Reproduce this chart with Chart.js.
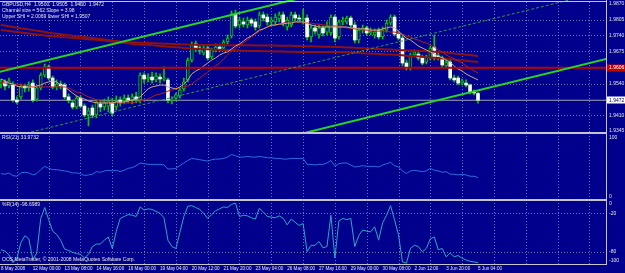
<!DOCTYPE html>
<html><head><meta charset="utf-8">
<script src="https://cdn.jsdelivr.net/npm/chart.js@4.4.1/dist/chart.umd.min.js"></script>
<style>
html,body{margin:0;padding:0;background:#00008c;overflow:hidden;}
#wrap{position:relative;width:625px;height:273px;background:#00008c;}
canvas{position:absolute;left:0;display:block;}
</style></head><body>
<div id="wrap">
<canvas id="cMain" width="625" height="133" style="top:0px;width:625px;height:133px"></canvas>
<canvas id="cRsi" width="625" height="67" style="top:133px;width:625px;height:67px"></canvas>
<canvas id="cWpr" width="625" height="73" style="top:200px;width:625px;height:73px"></canvas>
</div>
<script>
// ---------------- DATA (GBPUSD H4) ----------------
const open = [1.9539,1.9548,1.9531,1.9535,1.9473,1.9486,1.9531,1.9523,1.9543,1.9477,
1.9523,1.9576,1.9610,1.9564,1.9527,1.9539,1.9535,1.9486,1.9461,1.9444,
1.9481,1.9448,1.9411,1.9440,1.9411,1.9457,1.9444,1.9448,1.9461,1.9444,
1.9473,1.9469,1.9481,1.9473,1.9486,1.9473,1.9576,1.9560,1.9568,1.9556,
1.9568,1.9560,1.9556,1.9473,1.9481,1.9490,1.9519,1.9556,1.9638,1.9705,
1.9688,1.9667,1.9688,1.9651,1.9680,1.9692,1.9688,1.9713,1.9738,1.9829,
1.9783,1.9796,1.9783,1.9804,1.9796,1.9779,1.9825,1.9816,1.9796,1.9796,
1.9808,1.9825,1.9775,1.9783,1.9825,1.9812,1.9804,1.9812,1.9734,1.9771,
1.9742,1.9771,1.9754,1.9750,1.9816,1.9734,1.9796,1.9796,1.9812,1.9783,
1.9721,1.9762,1.9771,1.9750,1.9742,1.9762,1.9734,1.9762,1.9791,1.9816,
1.9746,1.9729,1.9626,1.9605,1.9659,1.9663,1.9647,1.9630,1.9647,1.9692,
1.9655,1.9647,1.9614,1.9630,1.9564,1.9564,1.9543,1.9543,1.9535,1.9506,
1.9500];
const high = [1.9560,1.9556,1.9564,1.9548,1.9486,1.9539,1.9539,1.9548,1.9556,1.9531,
1.9585,1.9622,1.9618,1.9572,1.9556,1.9552,1.9543,1.9498,1.9473,1.9490,
1.9490,1.9457,1.9440,1.9452,1.9473,1.9473,1.9477,1.9486,1.9481,1.9490,
1.9486,1.9494,1.9494,1.9498,1.9506,1.9585,1.9585,1.9581,1.9589,1.9585,
1.9581,1.9610,1.9564,1.9486,1.9502,1.9523,1.9564,1.9647,1.9713,1.9717,
1.9700,1.9700,1.9696,1.9688,1.9705,1.9705,1.9721,1.9742,1.9841,1.9845,
1.9816,1.9812,1.9816,1.9812,1.9808,1.9837,1.9837,1.9829,1.9816,1.9829,
1.9837,1.9837,1.9816,1.9837,1.9837,1.9825,1.9849,1.9825,1.9783,1.9783,
1.9783,1.9779,1.9796,1.9825,1.9825,1.9804,1.9816,1.9820,1.9820,1.9796,
1.9771,1.9783,1.9779,1.9771,1.9767,1.9771,1.9775,1.9804,1.9825,1.9825,
1.9758,1.9738,1.9638,1.9667,1.9680,1.9676,1.9659,1.9659,1.9696,1.9742,
1.9667,1.9655,1.9638,1.9638,1.9576,1.9572,1.9560,1.9556,1.9539,1.9515,
1.9505];
const low = [1.9523,1.9515,1.9523,1.9465,1.9457,1.9477,1.9506,1.9510,1.9465,1.9469,
1.9515,1.9568,1.9556,1.9519,1.9515,1.9519,1.9477,1.9461,1.9436,1.9436,
1.9440,1.9403,1.9366,1.9399,1.9399,1.9424,1.9432,1.9424,1.9407,1.9432,
1.9448,1.9457,1.9461,1.9457,1.9461,1.9461,1.9543,1.9548,1.9543,1.9548,
1.9543,1.9552,1.9461,1.9457,1.9469,1.9481,1.9510,1.9548,1.9630,1.9672,
1.9663,1.9659,1.9638,1.9643,1.9672,1.9672,1.9680,1.9705,1.9729,1.9771,
1.9771,1.9775,1.9771,1.9779,1.9762,1.9771,1.9800,1.9783,1.9779,1.9783,
1.9796,1.9779,1.9762,1.9775,1.9800,1.9796,1.9787,1.9721,1.9713,1.9746,
1.9729,1.9738,1.9742,1.9742,1.9713,1.9725,1.9783,1.9787,1.9771,1.9709,
1.9709,1.9750,1.9742,1.9742,1.9729,1.9725,1.9725,1.9754,1.9783,1.9738,
1.9721,1.9614,1.9597,1.9597,1.9651,1.9638,1.9618,1.9622,1.9638,1.9638,
1.9638,1.9610,1.9605,1.9556,1.9548,1.9535,1.9535,1.9527,1.9498,1.9494,
1.9460];
const close = [1.9548,1.9531,1.9552,1.9473,1.9465,1.9531,1.9523,1.9535,1.9473,1.9523,
1.9576,1.9610,1.9564,1.9527,1.9539,1.9531,1.9486,1.9473,1.9444,1.9481,
1.9448,1.9411,1.9428,1.9411,1.9465,1.9444,1.9461,1.9469,1.9419,1.9469,
1.9461,1.9481,1.9473,1.9486,1.9477,1.9576,1.9560,1.9568,1.9556,1.9572,
1.9560,1.9564,1.9473,1.9477,1.9494,1.9515,1.9548,1.9638,1.9700,1.9688,
1.9680,1.9688,1.9647,1.9680,1.9692,1.9684,1.9713,1.9729,1.9829,1.9779,
1.9804,1.9787,1.9804,1.9791,1.9775,1.9825,1.9812,1.9796,1.9804,1.9816,
1.9825,1.9791,1.9804,1.9825,1.9812,1.9808,1.9812,1.9734,1.9771,1.9758,
1.9771,1.9750,1.9779,1.9816,1.9729,1.9796,1.9804,1.9812,1.9783,1.9721,
1.9762,1.9771,1.9750,1.9758,1.9754,1.9734,1.9762,1.9791,1.9816,1.9746,
1.9729,1.9626,1.9605,1.9659,1.9672,1.9647,1.9626,1.9651,1.9688,1.9647,
1.9651,1.9618,1.9630,1.9564,1.9556,1.9543,1.9552,1.9535,1.9506,1.9502,
1.9472];
const maFast = [1.9560,1.9552,1.9543,1.9539,1.9531,1.9527,1.9527,1.9527,1.9527,1.9531,
1.9535,1.9543,1.9548,1.9552,1.9548,1.9535,1.9527,1.9515,1.9502,1.9490,
1.9481,1.9477,1.9469,1.9465,1.9461,1.9461,1.9461,1.9461,1.9461,1.9465,
1.9465,1.9465,1.9469,1.9473,1.9477,1.9486,1.9502,1.9519,1.9527,1.9531,
1.9535,1.9535,1.9527,1.9523,1.9519,1.9527,1.9539,1.9556,1.9581,1.9593,
1.9601,1.9614,1.9626,1.9638,1.9647,1.9659,1.9667,1.9672,1.9684,1.9696,
1.9705,1.9717,1.9729,1.9738,1.9750,1.9762,1.9767,1.9775,1.9783,1.9783,
1.9787,1.9787,1.9791,1.9791,1.9796,1.9796,1.9796,1.9791,1.9783,1.9779,
1.9775,1.9775,1.9775,1.9775,1.9775,1.9775,1.9775,1.9775,1.9771,1.9771,
1.9767,1.9767,1.9767,1.9762,1.9762,1.9762,1.9767,1.9771,1.9775,1.9771,
1.9758,1.9742,1.9729,1.9721,1.9709,1.9696,1.9688,1.9680,1.9672,1.9663,
1.9655,1.9647,1.9638,1.9630,1.9614,1.9601,1.9593,1.9581,1.9572,1.9564,
1.9556];
const maMid = [1.9548,1.9543,1.9543,1.9539,1.9539,1.9535,1.9535,1.9531,1.9527,1.9527,
1.9527,1.9527,1.9527,1.9527,1.9527,1.9527,1.9527,1.9523,1.9515,1.9506,
1.9502,1.9494,1.9486,1.9481,1.9473,1.9469,1.9465,1.9465,1.9461,1.9461,
1.9461,1.9461,1.9461,1.9461,1.9465,1.9469,1.9473,1.9477,1.9486,1.9494,
1.9498,1.9502,1.9510,1.9515,1.9519,1.9523,1.9527,1.9531,1.9539,1.9552,
1.9564,1.9576,1.9589,1.9601,1.9614,1.9626,1.9643,1.9659,1.9676,1.9688,
1.9700,1.9709,1.9721,1.9734,1.9746,1.9758,1.9767,1.9775,1.9779,1.9783,
1.9787,1.9791,1.9796,1.9796,1.9796,1.9796,1.9796,1.9791,1.9791,1.9787,
1.9787,1.9783,1.9783,1.9779,1.9779,1.9775,1.9775,1.9771,1.9771,1.9767,
1.9767,1.9762,1.9762,1.9762,1.9758,1.9758,1.9758,1.9758,1.9754,1.9754,
1.9750,1.9746,1.9738,1.9734,1.9725,1.9721,1.9713,1.9709,1.9700,1.9692,
1.9680,1.9672,1.9659,1.9651,1.9643,1.9634,1.9626,1.9614,1.9605,1.9593,
1.9585];
const maSlowA = [1.9783,1.9781,1.9778,1.9775,1.9773,1.9770,1.9768,1.9765,1.9762,1.9759,
1.9757,1.9754,1.9751,1.9749,1.9747,1.9745,1.9743,1.9741,1.9739,1.9737,
1.9736,1.9734,1.9731,1.9729,1.9727,1.9725,1.9723,1.9721,1.9719,1.9717,
1.9715,1.9713,1.9712,1.9712,1.9711,1.9710,1.9710,1.9709,1.9708,1.9708,
1.9707,1.9706,1.9706,1.9705,1.9705,1.9704,1.9703,1.9703,1.9702,1.9701,
1.9700,1.9700,1.9700,1.9700,1.9700,1.9700,1.9700,1.9699,1.9699,1.9699,
1.9699,1.9699,1.9699,1.9699,1.9698,1.9698,1.9698,1.9698,1.9698,1.9698,
1.9697,1.9697,1.9697,1.9697,1.9696,1.9696,1.9696,1.9695,1.9695,1.9694,
1.9694,1.9693,1.9693,1.9693,1.9692,1.9692,1.9691,1.9690,1.9690,1.9689,
1.9688,1.9687,1.9686,1.9686,1.9685,1.9684,1.9683,1.9682,1.9682,1.9681,
1.9680,1.9679,1.9679,1.9678,1.9677,1.9676,1.9676,1.9675,1.9674,1.9673,
1.9672,1.9670,1.9669,1.9667,1.9665,1.9664,1.9662,1.9660,1.9659,1.9657,
1.9655];
const maSlowB = [1.9762,1.9760,1.9758,1.9756,1.9754,1.9752,1.9750,1.9748,1.9746,1.9744,
1.9742,1.9740,1.9738,1.9737,1.9736,1.9734,1.9733,1.9731,1.9730,1.9729,
1.9727,1.9726,1.9724,1.9723,1.9722,1.9721,1.9719,1.9717,1.9715,1.9713,
1.9711,1.9709,1.9708,1.9706,1.9704,1.9703,1.9702,1.9701,1.9699,1.9698,
1.9696,1.9695,1.9693,1.9692,1.9691,1.9690,1.9688,1.9687,1.9686,1.9685,
1.9684,1.9683,1.9683,1.9682,1.9681,1.9681,1.9680,1.9680,1.9679,1.9678,
1.9678,1.9677,1.9677,1.9676,1.9676,1.9676,1.9675,1.9675,1.9675,1.9674,
1.9674,1.9674,1.9673,1.9673,1.9673,1.9672,1.9672,1.9672,1.9672,1.9672,
1.9672,1.9672,1.9672,1.9672,1.9672,1.9672,1.9671,1.9670,1.9669,1.9668,
1.9667,1.9666,1.9665,1.9665,1.9664,1.9663,1.9662,1.9661,1.9661,1.9660,
1.9659,1.9658,1.9656,1.9655,1.9654,1.9653,1.9652,1.9650,1.9649,1.9648,
1.9647,1.9645,1.9644,1.9642,1.9640,1.9638,1.9637,1.9635,1.9633,1.9632,
1.9630];
const rsi = [40,39,41,37,36,41,42,41,38,40,
46,51,48,46,46,45,44,43,41,41,
40,37,38,39,43,42,44,45,44,45,
43,45,48,49,52,56,55,54,54,54,
54,53,47,47,48,52,56,60,63,62,
61,60,59,61,62,62,63,65,69,67,
65,65,66,65,65,66,65,64,64,63,
63,62,62,63,63,63,63,54,54,53,
54,54,56,60,51,55,56,56,53,50,
51,52,51,51,51,50,53,55,57,52,
50,44,40,44,45,44,43,44,48,45,
44,42,43,39,39,38,39,38,36,36,
34];
const wpr = [-77,-79,-85,-97,-90,-66,-55,-60,-92,-82,
-28,-11,-30,-48,-53,-62,-76,-78,-81,-83,
-84,-90,-84,-72,-68,-68,-62,-57,-75,-48,
-28,-25,-22,-23,-25,-10,-15,-13,-14,-17,
-20,-27,-62,-72,-75,-50,-25,-9,-8,-11,
-14,-20,-28,-22,-16,-13,-10,-11,-6,-4,
-25,-23,-24,-27,-29,-12,-18,-25,-26,-27,
-24,-28,-38,-29,-34,-39,-36,-80,-70,-70,
-64,-74,-72,-23,-90,-32,-28,-30,-28,-72,
-55,-46,-48,-49,-41,-62,-35,-23,-8,-30,
-54,-96,-98,-75,-70,-72,-80,-75,-60,-57,
-77,-75,-88,-82,-88,-86,-90,-93,-95,-96,
-97];
// regression channel (bar index -> price)
const channelBars  = [-1, 153];
const channelUpper = [1.9587, 2.0208];
const channelLower = [1.9025, 1.9646];
const channelMid   = [1.9306, 1.9927];
const levelPrice = 1.9606;
const bidPrice = 1.9472;
// axes / labels
const priceTicks = [1.9870, 1.9805, 1.9740, 1.9675, 1.9540, 1.9410, 1.9345];
const priceGrid  = [1.9805, 1.9740, 1.9675, 1.9540, 1.9410];
const rsiTicks = [100, 0];
const wprTicks = [0, -20, -80, -100];
const wprLevels = [-20, -80];
const dateLabels = ["8 May 2008","12 May 00:00","13 May 08:00","14 May 16:00","16 May 00:00","19 May 04:00","20 May 12:00","21 May 20:00","23 May 04:00","26 May 08:00","27 May 16:00","29 May 00:00","30 May 08:00","2 Jun 12:00","3 Jun 20:00","5 Jun 04:00"];
const dateLabelBars = [0,8,16,24,32,40,48,56,64,72,80,88,96,104,112,120];
const gridBars = [4,12,20,28,36,44,52,60,68,76,84,92,100,108,116,124,132,140,148];

// ---------------- STYLE ----------------
const BG = '#00008c';
const GRID = 'rgba(200,200,215,0.55)';
const BORDER = '#c4c4cc';
const TXT = '#e6e6e6';
const FONT = '5px "Liberation Sans", Arial, sans-serif';
const DATE_FONT = '4.6px "Liberation Sans", Arial, sans-serif';
const X_MIN = -0.25, X_MAX = 152.2;
const bars = open.map((_, i) => i);
const isBear = bars.map(i => close[i] < open[i]);

function baseOptions(yMin, yMax, padBottom) {
  return {
    responsive: false, animation: false, devicePixelRatio: 1, events: [],
    layout: { padding: { left: 0, right: 19, top: 0, bottom: padBottom } },
    plugins: { legend: { display: false }, tooltip: { enabled: false } },
    scales: {
      x: { type: 'linear', min: X_MIN, max: X_MAX, offset: false, display: false },
      y: { type: 'linear', min: yMin, max: yMax, display: false }
    }
  };
}

function panelPlugin(o) {
  return {
    id: 'panel_' + o.id,
    beforeDraw(chart) {
      const ctx = chart.ctx;
      ctx.save(); ctx.fillStyle = BG; ctx.fillRect(0, 0, chart.width, chart.height); ctx.restore();
    },
    beforeDatasetsDraw(chart) {
      const { ctx, chartArea: a, scales: { x, y } } = chart;
      ctx.save();
      ctx.strokeStyle = GRID; ctx.lineWidth = 1; ctx.setLineDash([1, 2]);
      gridBars.forEach(b => {
        const px = Math.round(x.getPixelForValue(b)) + 0.5;
        ctx.beginPath(); ctx.moveTo(px, a.top + (o.gridTop || 0)); ctx.lineTo(px, a.bottom); ctx.stroke();
      });
      (o.hGrid || []).forEach(v => {
        const py = Math.round(y.getPixelForValue(v)) + 0.5;
        ctx.beginPath(); ctx.moveTo(a.left, py); ctx.lineTo(a.right, py); ctx.stroke();
      });
      ctx.restore();
    },
    afterDraw(chart) {
      const { ctx, chartArea: a, scales: { x, y } } = chart;
      ctx.save();
      ctx.fillStyle = BORDER;
      (o.borders || []).forEach(by => ctx.fillRect(0, by, a.right, 1));
      ctx.fillRect(Math.round(a.right), 0, 1, o.axisBottom);
      ctx.font = FONT; ctx.fillStyle = TXT; ctx.textAlign = 'left';
      (o.ticks || []).forEach(t => {
        const py = y.getPixelForValue(t.v);
        ctx.textBaseline = t.base || 'middle';
        ctx.fillText(t.text, a.right + 3, py + (t.dy || 0));
      });
      (o.boxes || []).forEach(bx => {
        const py = y.getPixelForValue(bx.v);
        ctx.fillStyle = bx.bg; ctx.fillRect(a.right + 1, Math.round(py) - 3.5, 19, 7);
        ctx.fillStyle = bx.fg; ctx.textBaseline = 'middle';
        ctx.fillText(bx.text, a.right + 3, py);
      });
      ctx.fillStyle = TXT; ctx.textBaseline = 'middle';
      (o.titles || []).forEach(t => {
        if (Array.isArray(t.parts)) {
          let cx = t.x;
          t.parts.forEach(p => { ctx.fillText(p, cx, t.y); cx += ctx.measureText(p).width + (t.gap || 2.5); });
        } else ctx.fillText(t.text, t.x, t.y);
      });
      if (o.dates) {
        ctx.font = DATE_FONT;
        dateLabels.forEach((s, k) => {
          ctx.fillText(s, x.getPixelForValue(dateLabelBars[k]), o.dateY);
        });
      }
      ctx.restore();
    }
  };
}

function lineDs(label, xs, ys, color, width, order, dash) {
  return { type: 'line', label, data: xs.map((b, k) => ({ x: b, y: ys[k] })),
    borderColor: color, borderWidth: width, pointRadius: 0, tension: 0, fill: false,
    borderDash: dash || [], order };
}

// ---------------- MAIN PRICE PANEL ----------------
const pTop = 1.98865, pPerPx = 0.0004134;
new Chart(document.getElementById('cMain'), {
  type: 'bar',
  data: { datasets: [
    lineDs('Channel upper', channelBars, channelUpper, '#25d625', 2, 1),
    lineDs('Channel lower', channelBars, channelLower, '#25d625', 2, 1),
    lineDs('Channel middle', channelBars, channelMid, '#2a9a48', 1, 1, [3, 2]),
    lineDs('Level', [X_MIN, X_MAX], [levelPrice, levelPrice], '#c00000', 2, 2),
    lineDs('MA fast', bars, maFast, '#d2a87c', 1, 3),
    lineDs('MA mid', bars, maMid, '#b81c1c', 1, 4),
    lineDs('MA slow A', bars, maSlowA, '#8c1212', 2, 5),
    lineDs('MA slow B', bars, maSlowB, '#8c1212', 2, 5),
    { type: 'bar', label: 'Bodies', data: bars.map(i => ({ x: i, y: [open[i], close[i]] })),
      backgroundColor: bars.map(i => isBear[i] ? '#f4fff0' : BG),
      borderColor: '#00d000', borderWidth: bars.map(i => isBear[i] ? 0 : 1),
      borderSkipped: false, barThickness: 3, minBarLength: 1, grouped: false, order: 8 },
    { type: 'bar', label: 'Wicks', data: bars.map(i => ({ x: i, y: [low[i], high[i]] })),
      backgroundColor: '#00cc00', borderWidth: 0, barThickness: 1, grouped: false, order: 9 },
    lineDs('Bid', [X_MIN, X_MAX], [bidPrice, bidPrice], '#a4a4b4', 1, 10)
  ]},
  options: baseOptions(pTop - 133 * pPerPx, pTop, 0),
  plugins: [panelPlugin({
    id: 'main', hGrid: priceGrid, gridTop: 2, borders: [1, 132], axisBottom: 133,
    ticks: priceTicks.map(v => ({ v, text: v.toFixed(4) })),
    boxes: [{ v: levelPrice, text: levelPrice.toFixed(4), bg: '#c80000', fg: '#ffffff' },
            { v: bidPrice, text: bidPrice.toFixed(4), bg: '#ffffff', fg: '#000060' }],
    titles: [{ parts: ['GBPUSD,H4', '1.9500', '1.9505', '1.9460', '1.9472'], x: 2, y: 4.5, gap: 3 },
             { text: 'Channel size = 562 Slope = 3.98', x: 2, y: 10.5 },
             { text: 'Upper SHI = 2.0069 lower SHI = 1.9507', x: 2, y: 16.5 }]
  })]
});

// ---------------- RSI PANEL ----------------
new Chart(document.getElementById('cRsi'), {
  type: 'line',
  data: { datasets: [lineDs('RSI(21)', bars, rsi, '#2c6ee0', 1, 1)] },
  options: baseOptions(0, 101.5, 0),
  plugins: [panelPlugin({
    id: 'rsi', borders: [0, 66], axisBottom: 67,
    ticks: [{ v: rsiTicks[0], text: '100', base: 'top', dy: 1 }, { v: rsiTicks[1], text: '0', base: 'bottom', dy: -1 }],
    titles: [{ text: 'RSI(21) 33.9732', x: 2, y: 5 }]
  })]
});

// ---------------- WILLIAMS %R PANEL ----------------
new Chart(document.getElementById('cWpr'), {
  type: 'line',
  data: { datasets: [lineDs('%R(14)', bars, wpr, '#2aa8c4', 1, 1)] },
  options: baseOptions(-100, 0.78, 8.5),
  plugins: [{
    id: 'wprLevels',
    beforeDatasetsDraw(chart) {
      const { ctx, chartArea: a, scales: { y } } = chart;
      ctx.save(); ctx.strokeStyle = GRID; ctx.setLineDash([1, 2]); ctx.lineWidth = 1;
      wprLevels.forEach(v => { const py = Math.round(y.getPixelForValue(v)) + 0.5;
        ctx.beginPath(); ctx.moveTo(a.left, py); ctx.lineTo(a.right, py); ctx.stroke(); });
      ctx.restore();
    }
  }, panelPlugin({
    id: 'wpr', borders: [0, 64], axisBottom: 65, dates: true, dateY: 68.5,
    ticks: [{ v: wprTicks[0], text: '0', base: 'top', dy: 1 }, { v: wprTicks[1], text: '-20' },
            { v: wprTicks[2], text: '-80' }, { v: wprTicks[3], text: '-100', base: 'bottom', dy: -1 }],
    titles: [{ text: '%R(14) -96.6989', x: 2, y: 5 },
             { text: 'OOS,MetaTrader, \u00a9 2001-2008 MetaQuotes Software Corp.', x: 2, y: 60 }]
  })]
});
</script>
</body></html>
